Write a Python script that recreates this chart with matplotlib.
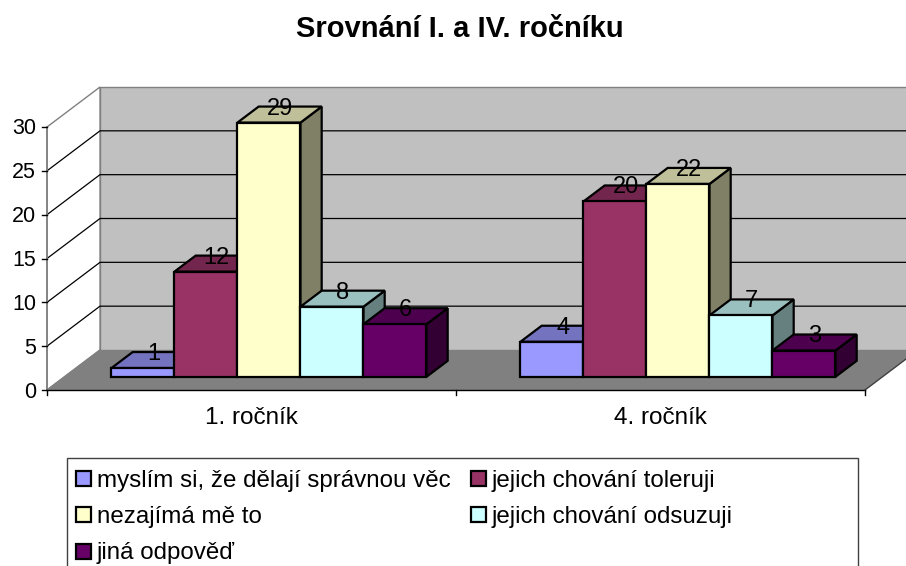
import matplotlib
matplotlib.use("Agg")
import matplotlib.pyplot as plt
from matplotlib.patches import Polygon, Rectangle
import numpy as np

plt.rcParams['font.family'] = ['Liberation Sans', 'DejaVu Sans']

# ---- data ----
title = "Srovnání I. a IV. ročníku"
categories = ["1. ročník", "4. ročník"]
series = ["myslím si, že dělají správnou věc", "jejich chování toleruji",
          "nezajímá mě to", "jejich chování odsuzuji", "jiná odpověď"]
values = [
    [1, 12, 29, 8, 6],    # 1. ročník
    [4, 20, 22, 7, 3],    # 4. ročník
]
colors = ["#9999FF", "#993366", "#FFFFCC", "#CCFFFF", "#660066"]
yticks = [0, 5, 10, 15, 20, 25, 30]

# ---- geometry (pixel space) ----
W, H = 906, 566
X0, X1 = 47, 865          # front floor edge
Y0 = 390                  # front y of value 0
YMAX = 30
S = 263 / YMAX            # px per unit
DX, DY = 53, -40          # full depth offset
D0, D1 = 0.33, 0.73       # bar depth range
CW = (X1 - X0) / len(categories)
BW = 63.0
OFF = (CW - len(series) * BW) / 2

def proj(x, v, d):
    return (x + d * DX, Y0 - v * S + d * DY)

fig = plt.figure(figsize=(W / 100, H / 100), dpi=100)
ax = fig.add_axes([0, 0, 1, 1])
ax.set_xlim(0, W)
ax.set_ylim(H, 0)
ax.axis('off')

gray = "#808080"
# back wall
ax.add_patch(Polygon([proj(X0, 0, 1), proj(X1, 0, 1), proj(X1, YMAX, 1), proj(X0, YMAX, 1)],
                     closed=True, facecolor="#C0C0C0", edgecolor=gray, lw=1, zorder=1))
# floor
ax.add_patch(Polygon([proj(X0, 0, 0), proj(X1, 0, 0), proj(X1, 0, 1), proj(X0, 0, 1)],
                     closed=True, facecolor="#808080", edgecolor="none", zorder=1))
# left wall outline
lw_pts = [proj(X0, 0, 0), proj(X0, YMAX, 0), proj(X0, YMAX, 1), proj(X0, 0, 1)]
ax.add_patch(Polygon(lw_pts, closed=True, facecolor="white", edgecolor=gray, lw=1, zorder=1))

# gridlines
for v in yticks[1:-1]:
    a, b, c = proj(X0, v, 0), proj(X0, v, 1), proj(X1, v, 1)
    ax.plot([a[0], b[0], c[0]], [a[1], b[1], c[1]], color="black", lw=0.9, zorder=2)

# axis lines
a, b = proj(X0, 0, 0), proj(X0, YMAX, 0)
ax.plot([a[0], b[0]], [a[1], b[1]], color=gray, lw=1.2, zorder=3)
a, b = proj(X0, 0, 0), proj(X1, 0, 0)
ax.plot([a[0], b[0]], [a[1], b[1]], color="black", lw=1.0, zorder=3)
a, b = proj(X1, 0, 0), proj(X1, 0, 1)
ax.plot([a[0], b[0]], [a[1], b[1]], color="#404040", lw=1.0, zorder=3)
a, b = proj(X0, 0, 0), proj(X0, 0, 1)
ax.plot([a[0], b[0]], [a[1], b[1]], color=gray, lw=1.0, zorder=3)

# y ticks
for v in yticks:
    x, y = proj(X0, v, 0)
    ax.plot([x - 5, x], [y, y], color="black", lw=1.0, zorder=3)
    ax.text(x - 11, y + 7.5, str(v), ha='right', va='baseline', fontsize=15.5, zorder=5)

# category ticks and labels
for k in range(len(categories) + 1):
    x, y = proj(X0 + k * CW, 0, 0)
    ax.plot([x, x], [y, y + 5], color="black", lw=1.0, zorder=3)
for c, name in enumerate(categories):
    x, y = proj(X0 + (c + 0.5) * CW, 0, 0)
    ax.text(x, y + 34, name, ha='center', va='baseline', fontsize=17.5, zorder=5)

def shade(col, f):
    r, g, b = matplotlib.colors.to_rgb(col)
    return (r * f, g * f, b * f)

# bars
z = 10
for c, vals in enumerate(values):
    for i, v in enumerate(vals):
        xf = X0 + c * CW + OFF + i * BW
        side = [proj(xf + BW, 0, D0), proj(xf + BW, 0, D1), proj(xf + BW, v, D1), proj(xf + BW, v, D0)]
        top = [proj(xf, v, D0), proj(xf + BW, v, D0), proj(xf + BW, v, D1), proj(xf, v, D1)]
        front = [proj(xf, 0, D0), proj(xf + BW, 0, D0), proj(xf + BW, v, D0), proj(xf, v, D0)]
        for pts, f in ((side, 0.5), (top, 0.75), (front, 1.0)):
            ax.add_patch(Polygon(pts, closed=True, facecolor=shade(colors[i], f),
                                 edgecolor="black", lw=1.6, joinstyle='miter', zorder=z))
        z += 1
        lx = proj(xf + BW / 2, v, (D0 + D1) / 2)[0]
        ly = proj(xf, v, D1)[1]
        ax.text(lx, ly + 8, str(v), ha='center', va='baseline', fontsize=17, zorder=100)

# title
ax.text(460, 37, title, ha='center', va='baseline', fontsize=21, fontweight='bold')

# legend (manual, row-major)
ax.add_patch(Rectangle((67, 458), 791, 130, facecolor="white", edgecolor="#404040", lw=1.0, zorder=20))
col_x = [76, 471]
for i, (name, col) in enumerate(zip(series, colors)):
    r, cidx = divmod(i, 2)
    y = 478 + r * 36.5
    x = col_x[cidx]
    ax.add_patch(Rectangle((x, y - 7.5), 15, 15, facecolor=col, edgecolor="black", lw=1.6, zorder=21))
    ax.text(x + 21, y + 8.5, name, ha='left', va='baseline', fontsize=17.4, zorder=21)

fig.savefig("out.png", dpi=100)
